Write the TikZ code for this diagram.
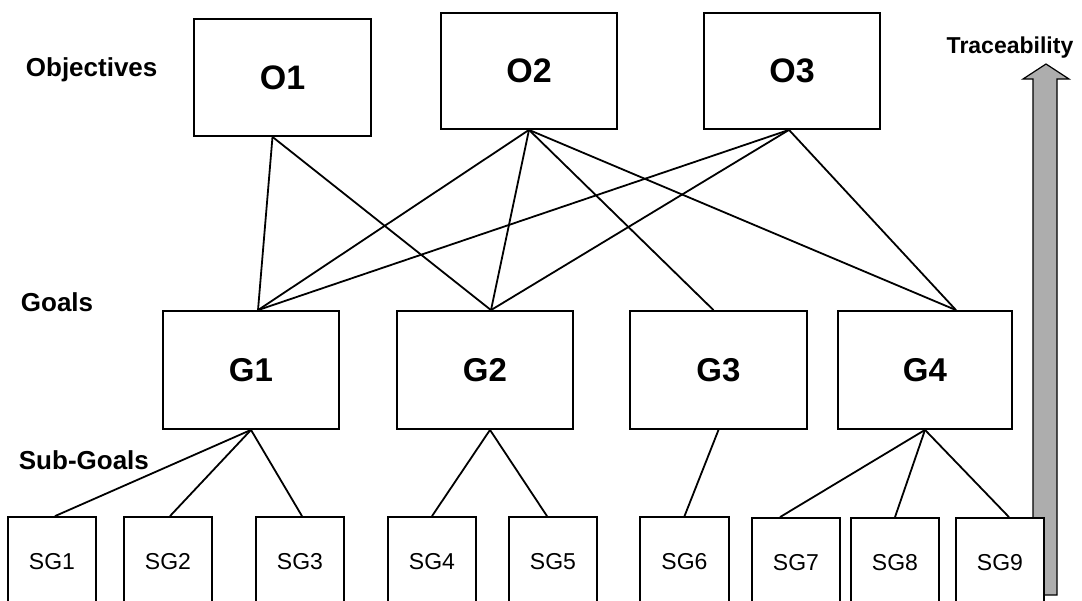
\documentclass[tikz,border=0pt]{standalone}
\usepackage{fontspec}
\setmainfont{Liberation Sans}
\usetikzlibrary{calc}
\begin{document}
\begin{tikzpicture}[x=1pt,y=-1pt,
  line width=1.8pt,
  obox/.style={draw=black,fill=white,rectangle,minimum width=176pt,minimum height=117pt,inner sep=0pt,font=\fontsize{34}{36}\selectfont\bfseries},
  gbox/.style={draw=black,fill=white,rectangle,minimum width=176pt,minimum height=118pt,inner sep=0pt,font=\fontsize{33}{36}\selectfont\bfseries},
  sgbox/.style={draw=black,fill=white,rectangle,minimum width=88pt,minimum height=90pt,inner sep=0pt,font=\fontsize{23}{26}\selectfont},
  lvl/.style={anchor=west,inner sep=0pt,font=\fontsize{26}{30}\selectfont\bfseries},
  link/.style={draw=black,line width=1.8pt}]
\useasboundingbox (0,0) rectangle (1082,600);
\clip (0,0) rectangle (1082,600);
% level labels
\node[lvl] (lobj) at (25,70) {Objectives};
\node[lvl] (lgoal) at (20,302) {Goals};
\node[lvl] (lsub) at (18,460) {Sub-Goals};
\node[inner sep=0pt,font=\fontsize{23}{26}\selectfont\bfseries] (ltrace) at (1010,48) {Traceability};
% traceability arrow
\filldraw[fill=black!32,draw=black,line width=1.2pt]
  (1033,595) -- (1033,79) -- (1023,79) -- (1046,64) -- (1069,79) -- (1057,79) -- (1057,595) -- cycle;
% objectives
\node[obox,minimum width=177pt] (O1) at (282.5,77.5) {O1};
\node[obox,minimum height=116pt] (O2) at (529,71) {O2};
\node[obox,minimum height=116pt] (O3) at (792,71) {O3};
% goals
\node[gbox] (G1) at (251,370) {G1};
\node[gbox] (G2) at (485,370) {G2};
\node[gbox,minimum width=177pt] (G3) at (718.5,370) {G3};
\node[gbox,minimum width=174pt] (G4) at (925,370) {G4};
% sub-goals
\node[sgbox] (SG1) at (52,562) {SG1};
\node[sgbox] (SG2) at (168,562) {SG2};
\node[sgbox] (SG3) at (300,562) {SG3};
\node[sgbox] (SG4) at (432,562) {SG4};
\node[sgbox] (SG5) at (553,562) {SG5};
\node[sgbox,minimum width=89pt] (SG6) at (684.5,562) {SG6};
\node[sgbox] (SG7) at (796,563) {SG7};
\node[sgbox] (SG8) at (895,563) {SG8};
\node[sgbox] (SG9) at (1000,563) {SG9};
% anchor points
\coordinate (o1b) at ([xshift=-10pt]O1.south);
\coordinate (o2b) at (O2.south);
\coordinate (o3b) at ([xshift=-3pt]O3.south);
\coordinate (g1t) at ([xshift=7pt]G1.north);
\coordinate (g2t) at ([xshift=6pt]G2.north);
\coordinate (g3t) at ([xshift=-5pt]G3.north);
\coordinate (g4t) at ([xshift=31pt]G4.north);
% objective-goal links
\draw[link] (o1b) -- (g1t);
\draw[link] (o1b) -- (g2t);
\draw[link] (o2b) -- (g1t);
\draw[link] (o2b) -- (g2t);
\draw[link] (o2b) -- (g3t);
\draw[link] (o2b) -- (g4t);
\draw[link] (o3b) -- (g1t);
\draw[link] (o3b) -- (g2t);
\draw[link] (o3b) -- (g4t);
% goal-subgoal links
\draw[link] (G1.south) -- ([xshift=3pt]SG1.north);
\draw[link] (G1.south) -- ([xshift=2pt]SG2.north);
\draw[link] (G1.south) -- ([xshift=2pt]SG3.north);
\draw[link] ([xshift=5pt]G2.south) -- (SG4.north);
\draw[link] ([xshift=5pt]G2.south) -- ([xshift=-6pt]SG5.north);
\draw[link] (G3.south) -- (SG6.north);
\draw[link] (G4.south) -- ([xshift=-16pt]SG7.north);
\draw[link] (G4.south) -- (SG8.north);
\draw[link] (G4.south) -- ([xshift=9pt]SG9.north);
\end{tikzpicture}
\end{document}
